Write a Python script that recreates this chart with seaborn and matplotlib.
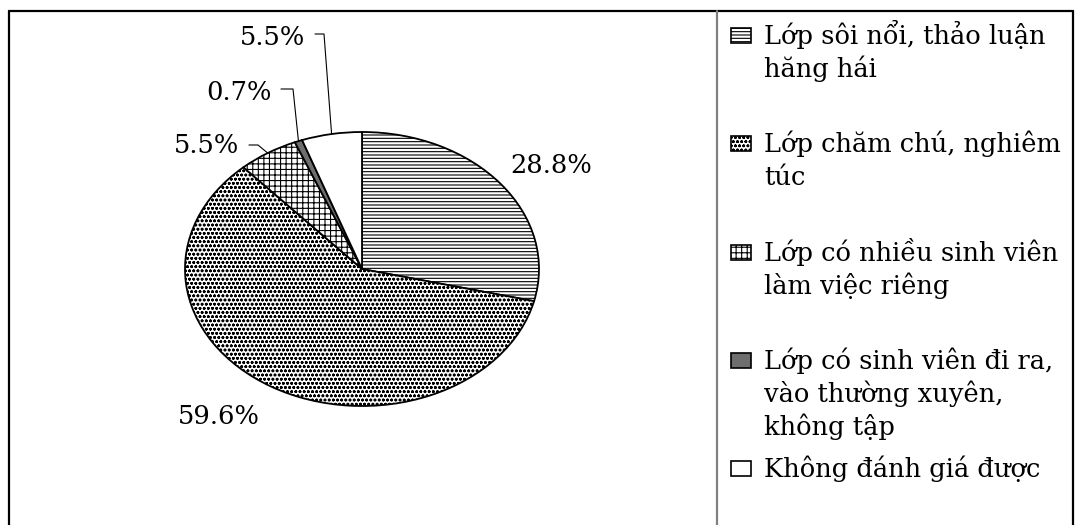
import numpy as np
import matplotlib
matplotlib.use("Agg")
import matplotlib.pyplot as plt
from matplotlib.patches import Rectangle
import seaborn as sns

# Data
labels = ['Lớp sôi nổi, thảo luận\nhăng hái',
          'Lớp chăm chú, nghiêm\ntúc',
          'Lớp có nhiều sinh viên\nlàm việc riêng',
          'Lớp có sinh viên đi ra,\nvào thường xuyên,\nkhông tập',
          'Không đánh giá được']
values = [28.8, 59.6, 5.5, 0.7, 5.5]
pct_text = ['28.8%', '59.6%', '5.5%', '0.7%', '5.5%']

# styles
hatches = ['-----', 'oooo', '+++', '', '']
faces = ['white', 'white', 'white', '#6e6e6e', 'white']

sns.set_style('white')
plt.rcParams['font.family'] = ['DejaVu Serif']
plt.rcParams['text.color'] = 'black'
plt.rcParams['hatch.linewidth'] = 0.8
FS = 18.5

fig = plt.figure(figsize=(10.76, 5.25), dpi=100)

# pie area: pixel x 10..714, y 11..525 ; center (362, 269), rx 177, ry 137
ax = fig.add_axes([10 / 1076, 0, 704 / 1076, 514 / 525])
wedges, _ = ax.pie(values, startangle=90, counterclock=False,
                   colors=faces, hatch=hatches,
                   wedgeprops=dict(edgecolor='black', linewidth=1.3))
ax.set_aspect('auto')
ax.set_xlim((10 - 362) / 177, (714 - 362) / 177)
ax.set_ylim((269 - 525) / 137, (269 - 11) / 137)
ax.axis('off')

def px(x, y):
    return (x - 362) / 177, (269 - y) / 137

# label positions (pixel, baseline) and leader lines for the small slices
label_pos = [(551, 173), (219, 424), (207, 153), (239, 100), (273, 45)]
leaders = {2: (249, 258, 145), 3: (281, 293, 89), 4: (315, 324, 34)}

for i, w in enumerate(wedges):
    tx, ty = px(*label_pos[i])
    ax.text(tx, ty, pct_text[i], ha='center', va='baseline', fontsize=FS)
    if i in leaders:
        x0, x1, yy = leaders[i]
        mid = np.deg2rad((w.theta1 + w.theta2) / 2)
        ex, ey = np.cos(mid), np.sin(mid)
        a, b = px(x0, yy)
        c, _ = px(x1, yy)
        ax.plot([a, c, ex], [b, b, ey], color='black', lw=0.8)

# overlay in pixel coordinates for frame and legend
lax = fig.add_axes([0, 0, 1, 1])
lax.set_xlim(0, 1076)
lax.set_ylim(525, 0)
lax.axis('off')
lax.plot([9, 9], [11, 525], color='black', lw=1.6)
lax.plot([9, 1073], [11, 11], color='black', lw=1.6)
lax.plot([1073, 1073], [11, 525], color='black', lw=1.6)
lax.plot([717, 717], [11, 525], color='#808080', lw=1.6)

base0, slot, line_h = 44, 108.3, 33
for i, lab in enumerate(labels):
    yb = base0 + i * slot
    lax.add_patch(Rectangle((731, yb - 16), 20, 15, facecolor=faces[i],
                            edgecolor='black', lw=1.2, hatch=hatches[i]))
    for j, line in enumerate(lab.split('\n')):
        lax.text(764, yb + j * line_h, line, ha='left', va='baseline', fontsize=FS)

fig.savefig('out.png', dpi=100, facecolor='white')
